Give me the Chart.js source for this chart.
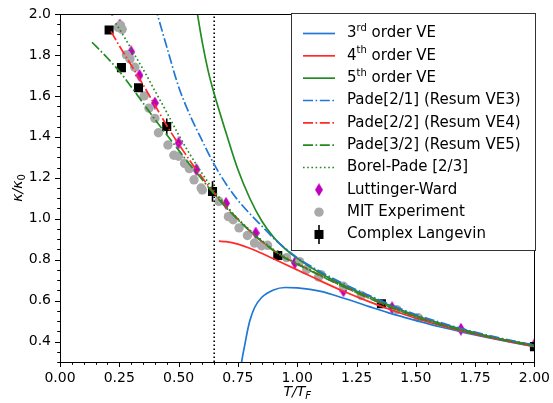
<!DOCTYPE html>
<html>
<head>
<meta charset="utf-8">
<script src="https://cdn.jsdelivr.net/npm/chart.js@4.4.0/dist/chart.umd.min.js"></script>
<style>
  html, body { margin: 0; padding: 0; background: #fff; }
  #wrap { width: 553px; height: 403px; }
</style>
</head>
<body>
<div id="wrap"><canvas id="chart" width="553" height="403"></canvas></div>
<script>
// values (T/T_F on x, kappa/kappa_0 on y)
let xTicks = [0, 0.25, 0.5, 0.75, 1.0, 1.25, 1.5, 1.75, 2.0];
let yTicks = [0.4, 0.6, 0.8, 1.0, 1.2, 1.4, 1.6, 1.8, 2.0];
let tCrit = 0.65;

// 3rd order VE
let t3 = [0.755, 0.77, 0.78, 0.79, 0.80, 0.82, 0.85, 0.90, 0.95, 1.00, 1.10, 1.20, 1.30, 1.40, 1.50, 1.60, 1.70, 1.80, 1.90, 2.00];
let k3 = [0.22, 0.33, 0.39, 0.45, 0.50, 0.565, 0.615, 0.652, 0.664, 0.662, 0.645, 0.61, 0.572, 0.535, 0.503, 0.472, 0.445, 0.42, 0.397, 0.375];
// 4th order VE
let t4 = [0.67, 0.70, 0.75, 0.80, 0.85, 0.90, 1.00, 1.10, 1.20, 1.30, 1.40, 1.50, 1.60, 1.70, 1.80, 1.90, 2.00];
let k4 = [0.890, 0.888, 0.876, 0.856, 0.831, 0.804, 0.750, 0.695, 0.643, 0.596, 0.553, 0.514, 0.48, 0.449, 0.422, 0.398, 0.377];
// 5th order VE
let t5 = [0.575, 0.60, 0.625, 0.65, 0.70, 0.75, 0.80, 0.85, 0.90, 0.95, 1.00, 1.10, 1.20, 1.30, 1.40, 1.50, 1.60, 1.70, 1.80, 1.90, 2.00];
let k5 = [2.03, 1.86, 1.72, 1.61, 1.42, 1.24, 1.10, 0.99, 0.91, 0.852, 0.806, 0.732, 0.673, 0.622, 0.572, 0.527, 0.49, 0.458, 0.428, 0.403, 0.381];
// Pade[2/1]
let t21 = [0.40, 0.45, 0.50, 0.55, 0.60, 0.65, 0.70, 0.75, 0.80, 0.85, 0.90, 0.95, 1.00, 1.10, 1.20, 1.30, 1.40, 1.50, 1.60, 1.70, 1.80, 1.90, 2.00];
let k21 = [2.04, 1.84, 1.645, 1.50, 1.38, 1.265, 1.17, 1.09, 1.025, 0.965, 0.905, 0.855, 0.81, 0.74, 0.68, 0.627, 0.577, 0.532, 0.494, 0.461, 0.432, 0.406, 0.383];
// Pade[2/2]
let t22 = [0.215, 0.25, 0.30, 0.35, 0.40, 0.45, 0.50, 0.55, 0.60, 0.65, 0.70, 0.75, 0.80, 0.85, 0.90, 0.95, 1.00, 1.10, 1.20, 1.30, 1.40, 1.50, 1.60, 1.70, 1.80, 1.90, 2.00];
let k22 = [1.915, 1.845, 1.75, 1.655, 1.555, 1.455, 1.365, 1.28, 1.2, 1.125, 1.06, 0.998, 0.94, 0.89, 0.845, 0.808, 0.78, 0.722, 0.666, 0.615, 0.566, 0.522, 0.485, 0.453, 0.426, 0.401, 0.379];
// Pade[3/2]
let t32 = [0.135, 0.20, 0.25, 0.30, 0.35, 0.40, 0.45, 0.50, 0.55, 0.60, 0.65, 0.70, 0.75, 0.80, 0.85, 0.90, 0.95, 1.00, 1.10, 1.20, 1.30, 1.40, 1.50, 1.60, 1.70, 1.80, 1.90, 2.00];
let k32 = [1.862, 1.785, 1.72, 1.645, 1.565, 1.485, 1.41, 1.335, 1.26, 1.19, 1.12, 1.055, 0.995, 0.94, 0.89, 0.845, 0.807, 0.778, 0.72, 0.665, 0.613, 0.564, 0.52, 0.484, 0.452, 0.425, 0.40, 0.378];
// Borel-Pade [2/3]
let tBP = [0.235, 0.28, 0.32, 0.36, 0.40, 0.45, 0.50, 0.55, 0.60, 0.65, 0.70, 0.75, 0.80, 0.85, 0.90, 0.95, 1.00, 1.10, 1.20, 1.30, 1.40, 1.50, 1.60, 1.70, 1.80, 1.90, 2.00];
let kBP = [1.955, 1.87, 1.79, 1.71, 1.625, 1.52, 1.41, 1.31, 1.22, 1.135, 1.065, 1.0, 0.945, 0.895, 0.85, 0.812, 0.782, 0.722, 0.667, 0.615, 0.566, 0.522, 0.486, 0.454, 0.426, 0.402, 0.38];
// Luttinger-Ward
let tLW = [0.22, 0.252, 0.30, 0.335, 0.40, 0.50, 0.575, 0.70, 0.825, 0.99, 1.195, 1.40, 1.69, 2.0];
let kLW = [2.02, 1.946, 1.815, 1.70, 1.565, 1.37, 1.24, 1.075, 0.93, 0.785, 0.648, 0.565, 0.46, 0.385];
// MIT experiment
let tMIT = [0.245, 0.255, 0.262, 0.28, 0.295, 0.315, 0.355, 0.375, 0.40, 0.415, 0.455, 0.48, 0.50, 0.525, 0.545, 0.565, 0.595, 0.60, 0.67, 0.71, 0.73, 0.755, 0.79, 0.82, 0.85, 0.875, 0.955, 1.01, 1.04, 1.09, 1.10, 1.195, 1.27, 1.42, 1.51];
let kMIT = [1.935, 1.945, 1.925, 1.80, 1.78, 1.74, 1.60, 1.54, 1.49, 1.42, 1.36, 1.31, 1.305, 1.27, 1.245, 1.19, 1.15, 1.14, 1.085, 1.01, 0.995, 0.955, 0.918, 0.881, 0.868, 0.87, 0.81, 0.79, 0.752, 0.715, 0.727, 0.67, 0.625, 0.556, 0.516];
// Complex Langevin
let tCL = [0.207, 0.259, 0.331, 0.45, 0.643, 0.918, 1.355, 2.0];
let kCL = [1.922, 1.738, 1.64, 1.45, 1.133, 0.82, 0.585, 0.375];
let eCL = [0.01, 0.01, 0.01, 0.04, 0.05, 0.025, 0.015, 0.01];

const BLUE = '#1f78d6', RED = '#ff2b2b', GREEN = '#228b22', MAG = '#bf00bf', GRAY = '#a9a9a9';
const DASHDOT = [10, 2.6, 1.6, 2.6], DOTTED = [1.6, 2.6];

function pts(ts, ks) { return ts.map((t, i) => ({ x: t, y: ks[i] })); }

// thin diamond marker, like matplotlib 'd'
let diamond = document.createElement('canvas');
diamond.width = 8; diamond.height = 13;
(function () {
  let c = diamond.getContext('2d');
  c.fillStyle = MAG;
  c.beginPath();
  c.moveTo(4, 0); c.lineTo(8, 6.5); c.lineTo(4, 13); c.lineTo(0, 6.5);
  c.closePath(); c.fill();
})();

function curve(label, ts, ks, color, dash, order) {
  return {
    label: label, data: pts(ts, ks), showLine: true, borderColor: color, borderWidth: 1.7,
    borderDash: dash, pointRadius: 0, cubicInterpolationMode: 'monotone', clip: 0, order: order
  };
}

let datasets = [
  { label: 'Luttinger-Ward', data: pts(tLW, kLW), pointStyle: diamond, pointRadius: 6, clip: 0, order: 20 },
  { label: 'MIT Experiment', data: pts(tMIT, kMIT), pointRadius: 4.7, backgroundColor: GRAY, borderWidth: 0, clip: 0, order: 19 },
  { label: 'Complex Langevin', data: pts(tCL, kCL), errors: eCL, pointStyle: 'rect', pointRadius: 6.4,
    backgroundColor: '#000', borderWidth: 0, clip: 0, order: 18 },
  { label: 'Tc', data: [{ x: tCrit, y: 0.3 }, { x: tCrit, y: 2.0 }], showLine: true, borderColor: '#000',
    borderWidth: 1.6, borderDash: [1.6, 2.4], pointRadius: 0, clip: 0, order: 17 },
  curve('3rd order VE', t3, k3, BLUE, [], 16),
  curve('4th order VE', t4, k4, RED, [], 15),
  curve('5th order VE', t5, k5, GREEN, [], 14),
  curve('Pade[2/1] (Resum VE3)', t21, k21, BLUE, DASHDOT, 13),
  curve('Pade[2/2] (Resum VE4)', t22, k22, RED, DASHDOT, 12),
  curve('Pade[3/2] (Resum VE5)', t32, k32, GREEN, DASHDOT, 11),
  curve('Borel-Pade [2/3]', tBP, kBP, GREEN, DOTTED, 10)
];

let legendItems = [
  { parts: ['3', 'rd', ' order VE'], kind: 'line', color: BLUE, dash: [] },
  { parts: ['4', 'th', ' order VE'], kind: 'line', color: RED, dash: [] },
  { parts: ['5', 'th', ' order VE'], kind: 'line', color: GREEN, dash: [] },
  { parts: ['Pade[2/1] (Resum VE3)'], kind: 'line', color: BLUE, dash: DASHDOT },
  { parts: ['Pade[2/2] (Resum VE4)'], kind: 'line', color: RED, dash: DASHDOT },
  { parts: ['Pade[3/2] (Resum VE5)'], kind: 'line', color: GREEN, dash: DASHDOT },
  { parts: ['Borel-Pade [2/3]'], kind: 'line', color: GREEN, dash: DOTTED },
  { parts: ['Luttinger-Ward'], kind: 'diamond' },
  { parts: ['MIT Experiment'], kind: 'circle' },
  { parts: ['Complex Langevin'], kind: 'cl' }
];

const FONT = '"DejaVu Sans", sans-serif';

let errorBars = {
  id: 'errorBars',
  afterDatasetDraw(chart, args) {
    let ds = chart.data.datasets[args.index];
    if (!ds.errors) return;
    let ctx = chart.ctx, xs = chart.scales.x, ys = chart.scales.y, a = chart.chartArea;
    ctx.save();
    ctx.beginPath(); ctx.rect(a.left, a.top, a.right - a.left, a.bottom - a.top); ctx.clip();
    ctx.strokeStyle = '#000'; ctx.lineWidth = 1.6;
    ds.data.forEach((p, i) => {
      let px = xs.getPixelForValue(p.x);
      ctx.beginPath();
      ctx.moveTo(px, ys.getPixelForValue(p.y - ds.errors[i]));
      ctx.lineTo(px, ys.getPixelForValue(p.y + ds.errors[i]));
      ctx.stroke();
    });
    ctx.restore();
  }
};

function mathLabel(ctx, pieces, x, y) {
  // pieces: [text, font, dy]
  let w = 0;
  pieces.forEach(p => { ctx.font = p[1]; w += ctx.measureText(p[0]).width; });
  let cx = x - w / 2;
  pieces.forEach(p => { ctx.font = p[1]; ctx.fillText(p[0], cx, y + p[2]); cx += ctx.measureText(p[0]).width; });
}

let decor = {
  id: 'decor',
  afterDraw(chart) {
    let ctx = chart.ctx, a = chart.chartArea, xs = chart.scales.x, ys = chart.scales.y;
    ctx.save();
    // frame
    ctx.strokeStyle = '#000'; ctx.lineWidth = 1;
    ctx.strokeRect(Math.round(a.left) + 0.5, Math.round(a.top) + 0.5, Math.round(a.right - a.left), Math.round(a.bottom - a.top));
    // major + minor ticks
    ctx.beginPath();
    for (let i = 0; i <= 40; i++) {
      let v = i * 0.05, px = Math.round(xs.getPixelForValue(v)) + 0.5;
      let len = (i % 5 === 0) ? 5 : 2.8;
      ctx.moveTo(px, a.bottom); ctx.lineTo(px, a.bottom + len);
    }
    for (let i = 6; i <= 40; i++) {
      let v = i * 0.05, py = Math.round(ys.getPixelForValue(v)) + 0.5;
      let len = (i % 4 === 0) ? 5 : 2.8;
      ctx.moveTo(a.left, py); ctx.lineTo(a.left - len, py);
    }
    ctx.stroke();
    // axis titles
    ctx.fillStyle = '#000'; ctx.textBaseline = 'alphabetic'; ctx.textAlign = 'left';
    mathLabel(ctx, [['T/T', 'italic 14px ' + FONT, 0], ['F', 'italic 10px ' + FONT, 3]], (a.left + a.right) / 2, 396);
    ctx.save();
    ctx.translate(22, (a.top + a.bottom) / 2);
    ctx.rotate(-Math.PI / 2);
    mathLabel(ctx, [['\u03ba/\u03ba', 'italic 14px ' + FONT, 0], ['0', '10px ' + FONT, 3]], 0, 0);
    ctx.restore();
    // legend
    let bx = 291.5, by = 13.5, bw = 244, bh = 237;
    ctx.fillStyle = '#fff'; ctx.fillRect(bx, by, bw, bh);
    ctx.strokeStyle = '#333'; ctx.lineWidth = 1; ctx.strokeRect(bx, by, bw, bh);
    legendItems.forEach((it, i) => {
      let y = 33.5 + i * 22.33, mx = 319;
      if (it.kind === 'line') {
        ctx.strokeStyle = it.color; ctx.lineWidth = 1.7; ctx.setLineDash(it.dash);
        ctx.beginPath(); ctx.moveTo(303, y); ctx.lineTo(335, y); ctx.stroke();
        ctx.setLineDash([]);
      } else if (it.kind === 'diamond') {
        ctx.drawImage(diamond, mx - 4, y - 6.5);
      } else if (it.kind === 'circle') {
        ctx.fillStyle = GRAY; ctx.beginPath(); ctx.arc(mx, y, 4.7, 0, Math.PI * 2); ctx.fill();
      } else {
        ctx.fillStyle = '#000'; ctx.fillRect(mx - 4.5, y - 4.5, 9, 9);
        ctx.strokeStyle = '#000'; ctx.lineWidth = 1.6;
        ctx.beginPath(); ctx.moveTo(mx, y - 9.5); ctx.lineTo(mx, y + 9.5); ctx.stroke();
      }
      ctx.fillStyle = '#000'; ctx.textBaseline = 'middle';
      let tx = 347;
      it.parts.forEach((p, j) => {
        let sup = it.parts.length === 3 && j === 1;
        ctx.font = (sup ? '10px ' : '15px ') + FONT;
        ctx.fillText(p, tx, y + (sup ? -5 : 0));
        tx += ctx.measureText(p).width;
      });
    });
    ctx.restore();
  }
};

let ctx = document.getElementById('chart').getContext('2d');
let chart = new Chart(ctx, {
  type: 'scatter',
  data: { datasets: datasets },
  options: {
    responsive: false,
    animation: false,
    events: [],
    devicePixelRatio: 1,
    layout: { padding: { top: 14, right: 16, left: 0, bottom: 0 } },
    plugins: { legend: { display: false }, tooltip: { enabled: false } },
    scales: {
      x: {
        type: 'linear', min: 0, max: 2.0,
        afterFit: s => { s.height = 41; },
        afterBuildTicks: s => { s.ticks = xTicks.map(v => ({ value: v })); },
        grid: { display: false, drawTicks: true, tickLength: 5 },
        border: { display: false },
        ticks: { color: '#000', padding: 3, maxRotation: 0, autoSkip: false,
          font: { family: 'DejaVu Sans', size: 14 }, callback: v => v.toFixed(2) }
      },
      y: {
        type: 'linear', min: 0.3, max: 2.0,
        afterFit: s => { s.width = 60; },
        afterBuildTicks: s => { s.ticks = yTicks.map(v => ({ value: v })); },
        grid: { display: false, drawTicks: true, tickLength: 5 },
        border: { display: false },
        ticks: { color: '#000', padding: 4, autoSkip: false,
          font: { family: 'DejaVu Sans', size: 14 }, callback: v => v.toFixed(1) }
      }
    }
  },
  plugins: [errorBars, decor]
});
</script>
</body>
</html>
